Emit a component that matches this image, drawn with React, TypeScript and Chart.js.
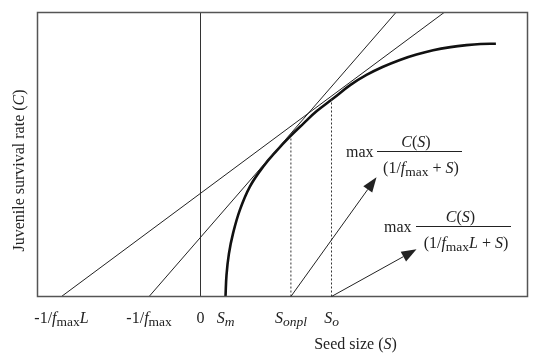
import React, { useEffect, useRef } from "react";
import { Chart, registerables } from "chart.js";

Chart.register(...registerables);

// ---- data ----
const curveX = [1.25, 1.3, 1.42, 1.63, 1.97, 2.47, 3.13, 3.8, 4.47, 5.13, 5.8, 6.63, 7.5, 8.3, 9.1, 9.97, 10.8, 11.63, 12.5, 13.3, 14.0, 14.77];
const curveY = [0, 0.75, 1.5, 2.23, 3.05, 3.87, 4.57, 5.13, 5.63, 6.08, 6.52, 6.97, 7.45, 7.8, 8.08, 8.33, 8.52, 8.67, 8.78, 8.85, 8.89, 8.9];

// tangent lines: [x at y=0, x at y=10]
const tangent1X = [-2.57, 9.77];
const tangent2X = [-6.95, 12.18];
const tangentY = [0, 10];

const zeroLineX = [0, 0];
const zeroLineY = [0, 10];

const dottedX = [4.52, 6.55];
const dottedTop = [5.63, 7.0];

// arrows: start (x,y) -> tip (x,y)
const arrowStartX = [4.52, 6.55];
const arrowStartY = [0, 0];
const arrowTipX = [8.8, 10.8];
const arrowTipY = [4.2, 1.66];

type Seg = [string, string];
const xTickValues = [-6.95, -2.57, 0, 1.25, 4.52, 6.55];
const xTickLabels: Seg[][] = [
  [["-1/", "n"], ["f", "i"], ["max", "s"], ["L", "i"]],
  [["-1/", "n"], ["f", "i"], ["max", "s"]],
  [["0", "n"]],
  [["S", "i"], ["m", "si"]],
  [["S", "i"], ["onpl", "si"]],
  [["S", "i"], ["o", "si"]],
];

const xTitle: Seg[] = [["Seed size (", "n"], ["S", "i"], [")", "n"]];
const yTitle: Seg[] = [["Juvenile survival rate (", "n"], ["C", "i"], [")", "n"]];

const formulaNum: Seg[] = [["C", "i"], ["(", "n"], ["S", "i"], [")", "n"]];
const formula1Den: Seg[] = [["(1/", "n"], ["f", "i"], ["max", "s"], [" + ", "n"], ["S", "i"], [")", "n"]];
const formula2Den: Seg[] = [["(1/", "n"], ["f", "i"], ["max", "s"], ["L", "i"], [" + ", "n"], ["S", "i"], [")", "n"]];

const X_MIN = -8.15;
const X_MAX = 16.35;
const Y_MIN = 0;
const Y_MAX = 10;

const FAMILY = '"Liberation Serif", "DejaVu Serif", serif';
const INK = "#222";

function fontFor(style: string, size: number) {
  const sub = style.startsWith("s");
  const italic = style.endsWith("i");
  const sz = sub ? size - 2.5 : size;
  return `${italic ? "italic " : ""}${sz}px ${FAMILY}`;
}

function segWidth(ctx: CanvasRenderingContext2D, segs: Seg[], size: number) {
  let w = 0;
  for (const [t, s] of segs) {
    ctx.font = fontFor(s, size);
    w += ctx.measureText(t).width;
  }
  return w;
}

function drawSegs(ctx: CanvasRenderingContext2D, segs: Seg[], x: number, y: number, size: number, align: "left" | "center") {
  const w = segWidth(ctx, segs, size);
  let cx = align === "center" ? x - w / 2 : x;
  ctx.textAlign = "left";
  ctx.textBaseline = "alphabetic";
  for (const [t, s] of segs) {
    ctx.font = fontFor(s, size);
    const dy = s.startsWith("s") ? 3 : 0;
    ctx.fillText(t, cx, y + dy);
    cx += ctx.measureText(t).width;
  }
}

function drawFraction(ctx: CanvasRenderingContext2D, maxX: number, maxBase: number, lineX0: number, lineX1: number, lineY: number, num: Seg[], den: Seg[], numCx: number, denCx: number) {
  ctx.font = `16px ${FAMILY}`;
  ctx.textAlign = "left";
  ctx.textBaseline = "alphabetic";
  ctx.fillText("max", maxX, maxBase);
  ctx.beginPath();
  ctx.moveTo(lineX0, lineY);
  ctx.lineTo(lineX1, lineY);
  ctx.lineWidth = 1;
  ctx.strokeStyle = INK;
  ctx.stroke();
  drawSegs(ctx, num, numCx, lineY - 5, 16, "center");
  drawSegs(ctx, den, denCx, lineY + 21, 16, "center");
}

const overlayPlugin = {
  id: "overlay",
  afterDatasetsDraw(chart: any) {
    const ctx: CanvasRenderingContext2D = chart.ctx;
    const xs = chart.scales.x;
    const ys = chart.scales.y;
    const a = chart.chartArea;
    ctx.save();
    // frame
    ctx.strokeStyle = "#555";
    ctx.lineWidth = 1.5;
    ctx.strokeRect(a.left, a.top, a.right - a.left, a.bottom - a.top);

    // arrows
    ctx.strokeStyle = INK;
    ctx.fillStyle = INK;
    ctx.lineWidth = 1;
    for (let i = 0; i < arrowTipX.length; i++) {
      const x0 = xs.getPixelForValue(arrowStartX[i]);
      const y0 = ys.getPixelForValue(arrowStartY[i]);
      const x1 = xs.getPixelForValue(arrowTipX[i]);
      const y1 = ys.getPixelForValue(arrowTipY[i]);
      const ang = Math.atan2(y1 - y0, x1 - x0);
      const L = 15, W = 5.5;
      const bx = x1 - L * Math.cos(ang);
      const by = y1 - L * Math.sin(ang);
      ctx.beginPath();
      ctx.moveTo(x0, y0);
      ctx.lineTo(bx, by);
      ctx.stroke();
      ctx.beginPath();
      ctx.moveTo(x1, y1);
      ctx.lineTo(bx + W * Math.sin(ang), by - W * Math.cos(ang));
      ctx.lineTo(bx - W * Math.sin(ang), by + W * Math.cos(ang));
      ctx.closePath();
      ctx.fill();
    }

    // tick labels
    ctx.fillStyle = INK;
    for (let i = 0; i < xTickValues.length; i++) {
      const px = xs.getPixelForValue(xTickValues[i]);
      drawSegs(ctx, xTickLabels[i], px, a.bottom + 26, 16, "center");
    }
    // x title
    drawSegs(ctx, xTitle, 355.5, 349, 16, "center");
    // y title
    ctx.save();
    ctx.translate(24, (a.top + a.bottom) / 2 + 16);
    ctx.rotate(-Math.PI / 2);
    drawSegs(ctx, yTitle, 0, 0, 16, "center");
    ctx.restore();

    // formulas
    drawFraction(ctx, 346, 156.5, 377, 462, 151.5, formulaNum, formula1Den, 416, 421);
    drawFraction(ctx, 384, 231.5, 416, 511, 226.5, formulaNum, formula2Den, 460.5, 466);
    ctx.restore();
  },
};

function pts(xs: number[], ys: number[]) {
  return xs.map((x, i) => ({ x, y: ys[i] }));
}

export default function App() {
  const ref = useRef<HTMLCanvasElement>(null);
  useEffect(() => {
    document.body.style.margin = "0";
    const thin = { borderColor: INK, borderWidth: 1, pointRadius: 0, fill: false };
    const datasets: any[] = [
      { ...thin, data: pts(tangent1X, tangentY) },
      { ...thin, data: pts(tangent2X, tangentY) },
      { ...thin, borderColor: "#333", data: pts(zeroLineX, zeroLineY) },
      ...dottedX.map((x, i) => ({ ...thin, borderColor: "#333", borderDash: [2, 2], data: [{ x, y: 0 }, { x, y: dottedTop[i] }] })),
      {
        data: pts(curveX, curveY),
        borderColor: "#111",
        borderWidth: 2.6,
        pointRadius: 0,
        tension: 0.4,
        fill: false,
      },
    ];
    const chart = new Chart(ref.current!, {
      type: "line",
      data: { datasets },
      options: {
        animation: false,
        responsive: false,
        layout: { padding: { left: 37.5, top: 12.5, right: 30.5, bottom: 58.5 } },
        plugins: { legend: { display: false }, tooltip: { enabled: false } },
        scales: {
          x: { type: "linear", min: X_MIN, max: X_MAX, display: false },
          y: { type: "linear", min: Y_MIN, max: Y_MAX, display: false },
        },
      },
      plugins: [overlayPlugin],
    });
    return () => chart.destroy();
  }, []);
  return <canvas ref={ref} width={558} height={355} style={{ display: "block" }} />;
}
